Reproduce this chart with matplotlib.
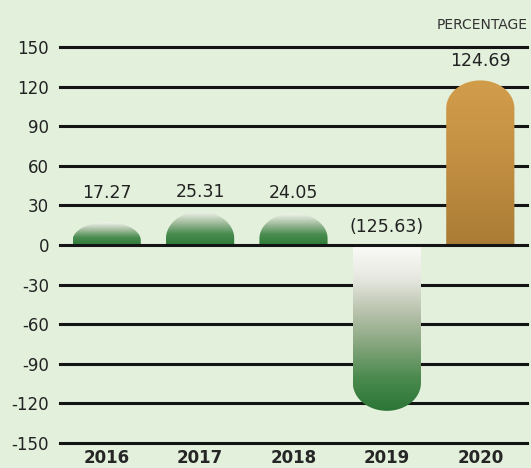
import matplotlib.pyplot as plt
import numpy as np
from matplotlib.colors import LinearSegmentedColormap
from matplotlib.path import Path
from matplotlib.patches import PathPatch

years = ["2016", "2017", "2018", "2019", "2020"]
values = [17.27, 25.31, 24.05, -125.63, 124.69]
yticks = [-150, -120, -90, -60, -30, 0, 30, 60, 90, 120, 150]

bg = "#e2f0dc"
green_grad = LinearSegmentedColormap.from_list(
    "green_grad", ["#fbfbf8", "#e6e8e0", "#b9c2ad", "#86a67e", "#4b8a4e", "#2a7636"])
green_short = LinearSegmentedColormap.from_list(
    "green_short", ["#f4f6ef", "#a5bea0", "#4a8c50", "#2e7b39"])
gold_grad = LinearSegmentedColormap.from_list(
    "gold_grad", ["#d29d4b", "#c28f42", "#a97c35"])

W, H = 531, 468
fig = plt.figure(figsize=(W / 100, H / 100), dpi=100)
fig.patch.set_facecolor(bg)

left, right, top, bottom = 60, 527, 47, 443
ax = fig.add_axes([left / W, 1 - bottom / H, (right - left) / W, (bottom - top) / H])
ax.set_facecolor(bg)

# data units per pixel, used to shape the rounded ends
px_y = 300 / (bottom - top)

for y in yticks:
    ax.axhline(y, color="#141414", lw=2.2, zorder=3 if y == 0 else 1, clip_on=False)


def rounded_bar(xc, w, v):
    """Bar with an elliptical cap on its far end (top for positive, bottom for negative)."""
    h = abs(v)
    rx = w / 2
    ry = min(28 * px_y, 0.8 * h)
    s = 1 if v >= 0 else -1
    x0, x1 = xc - w / 2, xc + w / 2
    t = np.linspace(np.pi, 0, 60)
    arc_x = xc + rx * np.cos(t)
    arc_y = s * (h - ry + ry * np.sin(t))
    xs = np.concatenate([[x0], arc_x, [x1, x0]])
    ys = np.concatenate([[0], arc_y, [0, 0]])
    verts = np.column_stack([xs, ys])
    codes = [Path.MOVETO] + [Path.LINETO] * (len(verts) - 2) + [Path.CLOSEPOLY]
    return PathPatch(Path(verts, codes), facecolor="none", edgecolor="none")


bar_w = 0.73
grad = np.linspace(0, 1, 256).reshape(-1, 1)
for i, v in enumerate(values):
    patch = rounded_bar(i, bar_w, v)
    ax.add_patch(patch)
    if v < 0:
        cmap = green_grad
    elif v > 100:
        cmap = gold_grad
    else:
        cmap = green_short
    img = ax.imshow(grad, cmap=cmap, aspect="auto", origin="upper",
                    extent=[i - bar_w / 2, i + bar_w / 2, min(v, 0), max(v, 0)],
                    zorder=2, interpolation="bilinear")
    img.set_clip_path(patch)

    label = f"({abs(v):.2f})" if v < 0 else f"{v:.2f}"
    ly = max(v, 25) + 14.5 if v >= 0 else 13.5
    ax.text(i, ly, label, ha="center", va="center", fontsize=12.5,
            color="#222222", zorder=4)

    ax.text(i, -161.5, years[i], ha="center", va="center", fontsize=12,
            fontweight="bold", color="#262626", clip_on=False)

ax.set_xlim(-0.5, 4.5)
ax.set_ylim(-150, 150)
ax.set_xticks([])
ax.set_yticks(yticks)
ax.set_yticklabels([str(t) for t in yticks], fontsize=12, color="#222222")
ax.tick_params(axis="y", length=0, pad=8)
for sp in ax.spines.values():
    sp.set_visible(False)

ax.text(1.002, 1.056, "PERCENTAGE", transform=ax.transAxes, ha="right",
        va="center", fontsize=10, color="#333333")

fig.savefig("out.png", dpi=100, facecolor=bg)
